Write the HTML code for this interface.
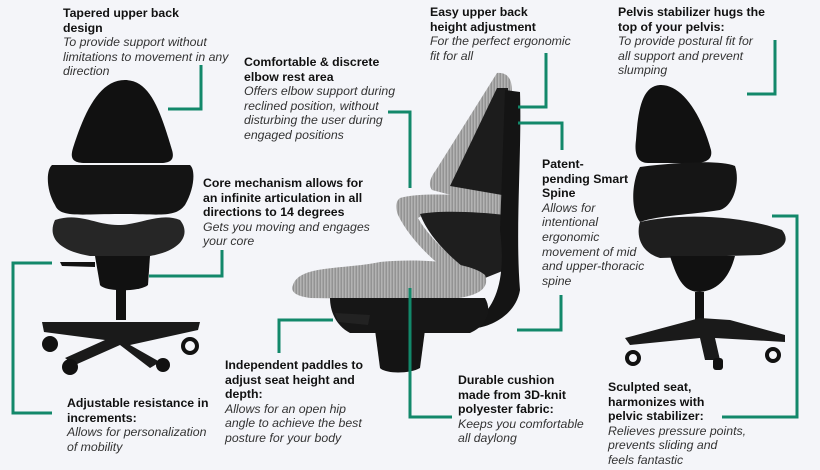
<!DOCTYPE html>
<html><head><meta charset="utf-8"><style>
html,body{margin:0;padding:0}
body{width:820px;height:470px;background:#f4f5f9;position:relative;overflow:hidden;font-family:"Liberation Sans",Arial,sans-serif}
.t{position:absolute;font-size:12.3px;line-height:14.6px;color:#111}
.t b{font-weight:bold;display:block}
.t i{display:block;color:#333;font-style:italic}
svg{position:absolute;left:0;top:0}
</style></head><body>
<svg width="820" height="470" viewBox="0 0 820 470">
<defs>
<pattern id="mesh" width="3" height="3" patternUnits="userSpaceOnUse"><rect width="3" height="3" fill="#939393"/><rect width="1.5" height="3" fill="#b3b3b3"/></pattern>
</defs>
<!-- left chair -->
<g fill="#111">
<path d="M125 80 C150 80 160 110 172 150 C175 160 170 163 160 163 L85 163 C72 163 70 158 73 148 C85 110 100 80 125 80Z"/>
<path d="M52 165 L190 165 C196 170 194 190 185 205 C175 218 160 214 120 214 C80 214 60 218 55 205 C46 190 46 170 52 165Z" fill="#141414"/>
<path d="M55 220 C80 212 95 225 118 225 C140 225 160 212 180 220 C190 232 185 250 150 256 L90 256 C55 250 48 235 55 220Z" fill="#262626"/>
<path d="M95 256 L150 256 L148 285 C140 292 105 292 100 285Z"/>
<rect x="116" y="290" width="10" height="30"/>
<path d="M42 322 L200 322 L198 330 L130 345 L160 362 L150 368 L120 345 L75 365 L65 358 L105 340 L44 332Z" fill="#1a1a1a"/>
<circle cx="50" cy="344" r="8"/><circle cx="190" cy="346" r="7" fill="none" stroke="#111" stroke-width="4"/>
<circle cx="70" cy="367" r="8"/><circle cx="163" cy="365" r="7"/>
<path d="M60 262 L95 262 L95 267 L62 266Z"/>
</g>
<!-- middle chair -->
<path d="M497 73 C508 72 512 80 512 90 L510 200 L470 200 L432 190 C428 185 430 178 436 170 Z" fill="url(#mesh)"/>
<path d="M497 88 L508 88 L508 196 L450 186 Z" fill="#1c1c1c"/>
<path d="M400 198 C420 192 470 195 505 198 L505 215 C470 212 430 210 418 218 C430 240 460 265 480 280 L470 285 C440 270 410 240 398 215 C395 207 396 201 400 198Z" fill="url(#mesh)"/>
<path d="M420 214 C440 210 480 212 505 215 L505 270 L480 280 C455 262 430 240 420 214Z" fill="#1e1e1e"/>
<path d="M505 90 L520 92 C522 150 515 230 520 290 C515 320 480 330 470 328 L480 318 C500 300 505 270 500 230 Z" fill="#141414"/>
<path d="M293 285 C300 265 340 270 380 262 C420 258 470 262 485 275 C490 288 480 298 440 300 L310 298 C296 296 290 292 293 285Z" fill="url(#mesh)"/>
<path d="M330 298 L485 298 C492 310 488 325 470 333 L350 333 C335 325 330 310 330 298Z" fill="#161616"/>
<path d="M375 330 L425 330 L420 368 C410 374 385 374 380 368Z" fill="#141414"/>
<path d="M335 313 L370 315 L368 325 L338 322Z" fill="#222"/>
<!-- right chair -->
<g fill="#111">
<path d="M660 85 C680 84 700 110 711 150 C713 160 705 163 695 163 L648 163 C638 163 634 155 636 140 C638 110 642 86 660 85Z"/>
<path d="M640 167 C680 162 720 160 735 166 C740 180 735 205 720 210 C690 215 660 215 640 222 C630 210 632 180 640 167Z" fill="#151515"/>
<path d="M640 222 C680 213 740 215 782 230 C790 240 786 250 760 255 L660 258 C640 252 636 235 640 222Z" fill="#1e1e1e"/>
<path d="M670 256 L735 256 C730 275 720 290 700 292 C685 292 678 282 670 256Z"/>
<rect x="695" y="292" width="9" height="30"/>
<path d="M625 338 L700 318 L730 320 L785 335 L785 342 L715 338 L720 360 L705 360 L700 338 L630 345Z" fill="#1a1a1a"/>
<circle cx="633" cy="358" r="6" fill="none" stroke="#111" stroke-width="4"/><circle cx="773" cy="355" r="6" fill="none" stroke="#111" stroke-width="4"/>
<rect x="713" y="358" width="10" height="12" rx="3"/>
</g>
<!-- green connectors -->
<g fill="none" stroke="#12886a" stroke-width="3">
<polyline points="201,65 201,109 168,109"/>
<polyline points="388,112 410,112 410,188"/>
<polyline points="546,53 546,107 518,107"/>
<polyline points="518,123 562,123 562,150"/>
<polyline points="775,40 775,94 747,94"/>
<polyline points="772,216 797,216 797,417 722,417"/>
<polyline points="222,250 222,276 149,276"/>
<polyline points="52,263 13,263 13,413 52,413"/>
<polyline points="333,320 279,320 279,353"/>
<polyline points="410,288 410,417 452,417"/>
<polyline points="561,295 561,330 517,330"/>
</g>
</svg>
<div class="t" style="left:63px;top:6px"><b>Tapered upper back<br>design</b><i>To provide support without<br>limitations to movement in any<br>direction</i></div>
<div class="t" style="left:244px;top:55px"><b>Comfortable &amp; discrete<br>elbow rest area</b><i>Offers elbow support during<br>reclined position, without<br>disturbing the user during<br>engaged positions</i></div>
<div class="t" style="left:203px;top:176px"><b>Core mechanism allows for<br>an infinite articulation in all<br>directions to 14 degrees</b><i>Gets you moving and engages<br>your core</i></div>
<div class="t" style="left:430px;top:5px"><b>Easy upper back<br>height adjustment</b><i>For the perfect ergonomic<br>fit for all</i></div>
<div class="t" style="left:618px;top:5px"><b>Pelvis stabilizer hugs the<br>top of your pelvis:</b><i>To provide postural fit for<br>all support and prevent<br>slumping</i></div>
<div class="t" style="left:542px;top:157px"><b>Patent-<br>pending Smart<br>Spine</b><i>Allows for<br>intentional<br>ergonomic<br>movement of mid<br>and upper-thoracic<br>spine</i></div>
<div class="t" style="left:225px;top:358px"><b>Independent paddles to<br>adjust seat height and<br>depth:</b><i>Allows for an open hip<br>angle to achieve the best<br>posture for your body</i></div>
<div class="t" style="left:67px;top:396px"><b>Adjustable resistance in<br>increments:</b><i>Allows for personalization<br>of mobility</i></div>
<div class="t" style="left:458px;top:373px"><b>Durable cushion<br>made from 3D-knit<br>polyester fabric:</b><i>Keeps you comfortable<br>all daylong</i></div>
<div class="t" style="left:608px;top:380px"><b>Sculpted seat,<br>harmonizes with<br>pelvic stabilizer:</b><i>Relieves pressure points,<br>prevents sliding and<br>feels fantastic</i></div>
</body></html>
